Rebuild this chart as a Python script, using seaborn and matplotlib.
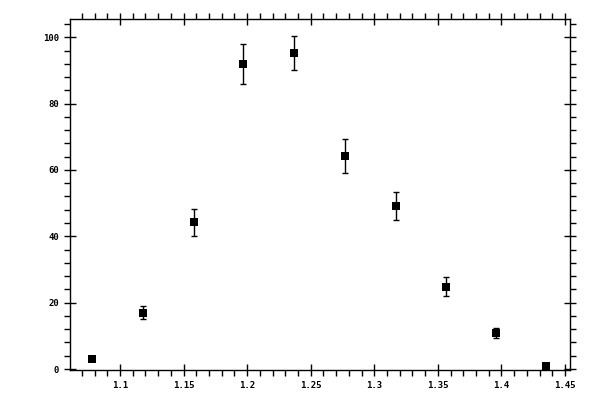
import numpy as np
import pandas as pd
import matplotlib
matplotlib.use("Agg")
import matplotlib.pyplot as plt
import seaborn as sns
from matplotlib.ticker import MultipleLocator, FuncFormatter

# values
x_vals = [1.078, 1.118, 1.158, 1.197, 1.237, 1.277, 1.317, 1.356, 1.396, 1.435]
y_vals = [3.0, 17.0, 44.2, 92.0, 95.3, 64.2, 49.1, 24.8, 10.9, 0.8]
y_err = [0.0, 2.0, 4.1, 6.0, 5.2, 5.0, 4.2, 2.9, 1.6, 0.0]

df = pd.DataFrame({"x": x_vals, "y": y_vals, "err": y_err})

sns.set_style("ticks")
plt.rcParams['font.family'] = ['DejaVu Sans Mono', 'DejaVu Sans']

fig = plt.figure(figsize=(6, 4), dpi=100)
ax = fig.add_axes([70 / 600, 1 - 370 / 400, 500 / 600, 351 / 400])

# error bars first, then the square markers on top
ax.errorbar(df["x"], df["y"], yerr=df["err"], fmt="none", ecolor="black",
            elinewidth=1, capsize=2.5, capthick=1, zorder=2)
sns.scatterplot(data=df, x="x", y="y", marker="s", s=26, color="black",
                edgecolor="black", linewidth=0, ax=ax, zorder=3)

ax.set_xlim(1.0607, 1.4539)
ax.set_ylim(-0.3, 105.5)
ax.set_xlabel("")
ax.set_ylabel("")

ax.xaxis.set_major_locator(MultipleLocator(0.05))
ax.xaxis.set_minor_locator(MultipleLocator(0.01))
ax.yaxis.set_major_locator(MultipleLocator(20))
ax.yaxis.set_minor_locator(MultipleLocator(4))
ax.xaxis.set_major_formatter(FuncFormatter(lambda v, p: "%g" % round(v, 3)))
ax.yaxis.set_major_formatter(FuncFormatter(lambda v, p: "%g" % round(v, 3)))

for s in ax.spines.values():
    s.set_linewidth(1)
    s.set_color("black")

ax.tick_params(which="major", direction="inout", length=8, width=1,
               top=True, right=True, labelsize=6.5, pad=4, colors="black")
ax.tick_params(which="minor", direction="out", length=4, width=1,
               top=True, right=True, colors="black")
for lab in ax.get_xticklabels() + ax.get_yticklabels():
    lab.set_fontweight("bold")

fig.savefig("out.png", dpi=100)
